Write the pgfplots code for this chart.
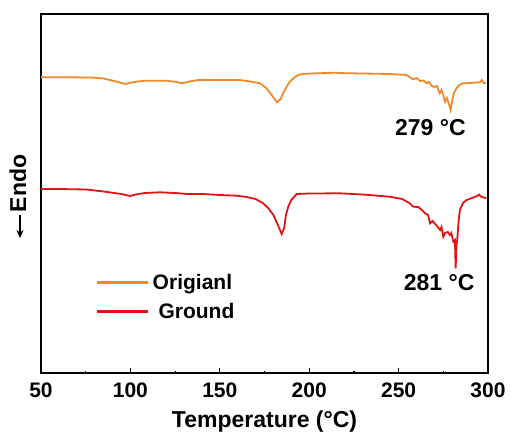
\documentclass[border=0pt]{standalone}
\usepackage{pgfplots}
\pgfplotsset{compat=1.18}
\usepackage{fontspec}
\setmainfont{Liberation Sans}
\usetikzlibrary{calc,arrows.meta}

\definecolor{origorange}{RGB}{238,138,40}
\definecolor{groundred}{RGB}{224,20,20}

\begin{document}
\begin{tikzpicture}
\begin{axis}[
    scale only axis,
    width=447pt, height=359pt,
    xmin=50, xmax=300,
    ymin=14, ymax=373,
    y dir=reverse,
    axis line style={line width=1.8pt},
    xtick={50,100,...,300},
    minor x tick num=1,
    xtick pos=bottom,
    tick align=inside,
    major tick length=5pt,
    minor tick length=2.5pt,
    tick style={line width=1.2pt, black},
    ytick=\empty,
    /pgf/number format/assume math mode=true,
    tick label style={font=\fontsize{21}{24}\selectfont\bfseries},
    xticklabel style={yshift=-6pt},
    xlabel={Temperature (°C)},
    xlabel style={font=\fontsize{23}{26}\selectfont\bfseries, yshift=-7pt},
    ylabel={Endo},
    ylabel style={font=\fontsize{23}{26}\selectfont\bfseries, at={(rel axis cs:0,0.528)}, anchor=south, yshift=11pt},
    legend cell align=left,
    legend style={draw=none, fill=none,
        at={(rel axis cs:0.118,0.288)}, anchor=north west,
        font=\fontsize{21}{24}\selectfont\bfseries,
        row sep=9pt, column sep=3pt},
]
\addplot[draw=origorange, line width=1.8pt,
    legend image code/.code={\fill[origorange] (0pt,-0.7pt) rectangle (49pt,0.7pt);}] coordinates {
(50,77.3) (65,77.3) (78,77.5) (85,78.5) (92,81.5) (97,84) (102,82)
(108,80.7) (120,80.7) (125,81.8) (129,83.3) (133,81.5) (138,80) (150,80)
(161,80) (167,81.5) (172.5,83.3) (176,88) (179,95) (182,102.3) (184,99)
(186,91) (189,82) (192,77) (195,74.3) (200,73.5) (210,73) (215,72.7)
(220,73.2) (230,73.5) (245,74) (254.5,75) (256,77) (258,79.3) (260,78)
(262,81) (264,80.5) (265.7,83.3) (267,82) (268.5,86) (270,87) (271.5,86)
(273,93.3) (274,90) (275,95) (276,101.7) (277,98) (278,103) (279.1,110)
(280,100) (281,93) (282.5,88) (284,85) (286,83.3) (290,83) (293,82.5)
(295.5,82.3) (296.5,80) (297.5,83) (299,83)
};
\addlegendentry{Origianl}
\addplot[draw=groundred, line width=1.8pt,
    legend image code/.code={\fill[groundred] (0pt,-0.7pt) rectangle (49pt,0.7pt);}] coordinates {
(50,189) (60,189) (75.5,189.5) (85,191.5) (95,194) (99.8,196) (103,194.5)
(108,193) (116.5,192.3) (125,193) (132,194) (140.6,194) (150,195)
(159.4,195.7) (165,197) (170,199) (174.3,203.3) (177,208) (180,215)
(182.5,225) (184.6,234) (186,228) (187,215) (188.3,206.7) (190,200)
(193,194) (200,193.5) (217,193.3) (230,194.5) (245,196.7) (252,199)
(256,203) (258.2,206.7) (261,207) (263,210) (264.8,213.3) (266.5,215)
(267.6,223.3) (269,221) (271,225) (273.2,230) (274,227) (275,236.7)
(276,233) (277.5,232) (278.7,235) (279.5,233) (280.6,241.7) (281.5,240)
(281.9,268.3) (282.4,245) (282.8,240) (283.5,222) (284.3,210) (286,203)
(288,200) (291,198) (294,196) (295,194.5) (296,196.5) (299,198.3)
};
\addlegendentry{\ Ground}
\node[font=\fontsize{23}{26}\selectfont\bfseries] at (axis cs:267.8,128) {279 °C};
\node[font=\fontsize{23}{26}\selectfont\bfseries] at (axis cs:272.7,283) {281 °C};
\end{axis}
\draw[line width=1.6pt, -{Stealth[length=8pt,width=7pt]}]
    ($(current axis.north west)+(-21pt,-201pt)$) -- ++(0,-23pt);
\pgfresetboundingbox
\path ($(current axis.south west)+(-41pt,-61pt)$) rectangle ($(current axis.north east)+(24pt,14pt)$);
\end{tikzpicture}
\end{document}
